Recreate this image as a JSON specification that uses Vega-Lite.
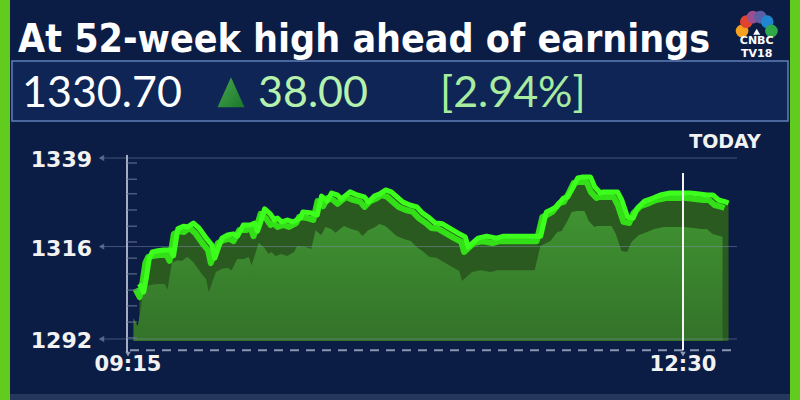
{
  "$schema": "https://vega.github.io/schema/vega-lite/v6.json",
  "width": 800,
  "height": 400,
  "autosize": {"type": "fit", "contains": "padding"},
  "padding": {"left": 10, "right": 10, "top": 0, "bottom": 0},
  "background": "#62cc1e",
  "config": {
    "view": {"stroke": null, "fill": "#0b1d45"},
    "axis": {"disable": true},
    "legend": {"disable": true}
  },
  "datasets": {
    "intraday": [
      {"time": "2024-01-01T09:19:00", "price": 1306.3},
      {"time": "2024-01-01T09:20:30", "price": 1304.2},
      {"time": "2024-01-01T09:21:30", "price": 1308.1},
      {"time": "2024-01-01T09:22:30", "price": 1313.0},
      {"time": "2024-01-01T09:23:30", "price": 1314.6},
      {"time": "2024-01-01T09:25:30", "price": 1314.9},
      {"time": "2024-01-01T09:27:30", "price": 1315.1},
      {"time": "2024-01-01T09:30:00", "price": 1315.1},
      {"time": "2024-01-01T09:31:00", "price": 1313.6},
      {"time": "2024-01-01T09:32:30", "price": 1320.6},
      {"time": "2024-01-01T09:34:30", "price": 1321.3},
      {"time": "2024-01-01T09:36:00", "price": 1321.1},
      {"time": "2024-01-01T09:38:00", "price": 1322.1},
      {"time": "2024-01-01T09:40:00", "price": 1320.8},
      {"time": "2024-01-01T09:42:30", "price": 1318.2},
      {"time": "2024-01-01T09:44:30", "price": 1316.4},
      {"time": "2024-01-01T09:45:30", "price": 1313.0},
      {"time": "2024-01-01T09:47:00", "price": 1316.2},
      {"time": "2024-01-01T09:48:00", "price": 1318.2},
      {"time": "2024-01-01T09:50:00", "price": 1319.0},
      {"time": "2024-01-01T09:52:00", "price": 1319.3},
      {"time": "2024-01-01T09:53:30", "price": 1318.7},
      {"time": "2024-01-01T09:55:30", "price": 1321.6},
      {"time": "2024-01-01T09:58:00", "price": 1321.6},
      {"time": "2024-01-01T09:59:30", "price": 1322.1},
      {"time": "2024-01-01T10:00:30", "price": 1320.0},
      {"time": "2024-01-01T10:01:30", "price": 1322.1},
      {"time": "2024-01-01T10:03:00", "price": 1325.8},
      {"time": "2024-01-01T10:05:00", "price": 1324.5},
      {"time": "2024-01-01T10:06:30", "price": 1322.9},
      {"time": "2024-01-01T10:07:30", "price": 1323.4},
      {"time": "2024-01-01T10:09:00", "price": 1322.4},
      {"time": "2024-01-01T10:11:00", "price": 1322.9},
      {"time": "2024-01-01T10:13:00", "price": 1322.4},
      {"time": "2024-01-01T10:15:30", "price": 1323.4},
      {"time": "2024-01-01T10:16:30", "price": 1325.0},
      {"time": "2024-01-01T10:19:30", "price": 1324.7},
      {"time": "2024-01-01T10:21:30", "price": 1324.2},
      {"time": "2024-01-01T10:23:00", "price": 1329.1},
      {"time": "2024-01-01T10:25:00", "price": 1327.8},
      {"time": "2024-01-01T10:26:30", "price": 1329.9},
      {"time": "2024-01-01T10:28:30", "price": 1329.4},
      {"time": "2024-01-01T10:30:00", "price": 1328.4},
      {"time": "2024-01-01T10:33:00", "price": 1330.2},
      {"time": "2024-01-01T10:35:30", "price": 1329.4},
      {"time": "2024-01-01T10:38:00", "price": 1328.9},
      {"time": "2024-01-01T10:39:30", "price": 1327.6},
      {"time": "2024-01-01T10:41:30", "price": 1329.1},
      {"time": "2024-01-01T10:43:30", "price": 1329.7},
      {"time": "2024-01-01T10:45:30", "price": 1330.7},
      {"time": "2024-01-01T10:47:30", "price": 1330.2},
      {"time": "2024-01-01T10:49:30", "price": 1328.9},
      {"time": "2024-01-01T10:51:30", "price": 1327.6},
      {"time": "2024-01-01T10:54:00", "price": 1326.8},
      {"time": "2024-01-01T10:56:30", "price": 1326.3},
      {"time": "2024-01-01T10:58:30", "price": 1324.7},
      {"time": "2024-01-01T11:01:00", "price": 1323.4},
      {"time": "2024-01-01T11:03:00", "price": 1322.1},
      {"time": "2024-01-01T11:05:30", "price": 1321.9},
      {"time": "2024-01-01T11:08:00", "price": 1320.8},
      {"time": "2024-01-01T11:11:00", "price": 1319.5},
      {"time": "2024-01-01T11:13:30", "price": 1318.5},
      {"time": "2024-01-01T11:14:30", "price": 1315.9},
      {"time": "2024-01-01T11:16:00", "price": 1316.9},
      {"time": "2024-01-01T11:18:00", "price": 1318.2},
      {"time": "2024-01-01T11:21:00", "price": 1318.7},
      {"time": "2024-01-01T11:24:30", "price": 1318.2},
      {"time": "2024-01-01T11:27:00", "price": 1318.7},
      {"time": "2024-01-01T11:31:30", "price": 1318.7},
      {"time": "2024-01-01T11:36:00", "price": 1318.7},
      {"time": "2024-01-01T11:40:00", "price": 1318.7},
      {"time": "2024-01-01T11:42:00", "price": 1325.0},
      {"time": "2024-01-01T11:43:30", "price": 1325.5},
      {"time": "2024-01-01T11:45:30", "price": 1326.3},
      {"time": "2024-01-01T11:48:00", "price": 1328.6},
      {"time": "2024-01-01T11:49:30", "price": 1328.9},
      {"time": "2024-01-01T11:51:30", "price": 1331.5},
      {"time": "2024-01-01T11:53:00", "price": 1333.8},
      {"time": "2024-01-01T11:55:00", "price": 1334.1},
      {"time": "2024-01-01T11:57:30", "price": 1334.1},
      {"time": "2024-01-01T11:59:00", "price": 1331.5},
      {"time": "2024-01-01T12:01:00", "price": 1329.9},
      {"time": "2024-01-01T12:02:00", "price": 1330.2},
      {"time": "2024-01-01T12:07:00", "price": 1330.2},
      {"time": "2024-01-01T12:08:30", "price": 1328.1},
      {"time": "2024-01-01T12:10:30", "price": 1323.7},
      {"time": "2024-01-01T12:12:30", "price": 1323.4},
      {"time": "2024-01-01T12:14:00", "price": 1326.0},
      {"time": "2024-01-01T12:16:30", "price": 1327.8},
      {"time": "2024-01-01T12:19:30", "price": 1328.6},
      {"time": "2024-01-01T12:22:00", "price": 1329.4},
      {"time": "2024-01-01T12:25:30", "price": 1329.9},
      {"time": "2024-01-01T12:29:00", "price": 1329.9},
      {"time": "2024-01-01T12:32:30", "price": 1329.9},
      {"time": "2024-01-01T12:35:00", "price": 1329.7},
      {"time": "2024-01-01T12:38:30", "price": 1329.4},
      {"time": "2024-01-01T12:40:30", "price": 1329.4},
      {"time": "2024-01-01T12:42:30", "price": 1328.1},
      {"time": "2024-01-01T12:45:00", "price": 1327.6},
      {"time": "2024-01-01T12:46:00", "price": 1327.3}
    ],
    "grid": [{"value": 1339}, {"value": 1316}, {"value": 1292}],
    "minorTicks": [
      {"price": 1337.7}, {"price": 1333.5}, {"price": 1329.7}, {"price": 1325.5},
      {"price": 1321.3}, {"price": 1317.2}, {"price": 1313.0}, {"price": 1308.9},
      {"price": 1304.7}, {"price": 1300.6}, {"price": 1296.4}, {"price": 1292.3}
    ],
    "xlabels": [
      {"time": "2024-01-01T09:15:00", "label": "09:15"},
      {"time": "2024-01-01T12:30:00", "label": "12:30"}
    ],
    "one": [{}]
  },
  "layer": [
    {
      "data": {"name": "one"},
      "mark": {"type": "rect", "color": "#26375e"},
      "encoding": {
        "x": {"datum": {"year": 2024, "month": 1, "date": 1, "hours": 8, "minutes": 33, "seconds": 32}, "type": "temporal",
          "scale": {"domain": [{"year": 2024, "month": 1, "date": 1, "hours": 8, "minutes": 33, "seconds": 32}, {"year": 2024, "month": 1, "date": 1, "hours": 13, "minutes": 7, "seconds": 36}], "nice": false}},
        "x2": {"datum": {"year": 2024, "month": 1, "date": 1, "hours": 13, "minutes": 7, "seconds": 36}},
        "y": {"datum": 1277.7, "type": "quantitative", "scale": {"domain": [1276.16, 1380.03], "nice": false, "zero": false}},
        "y2": {"datum": 1276.16}
      }
    },
    {
      "data": {"name": "one"},
      "mark": {"type": "rect", "color": "#0f2555", "stroke": "#5f7fb8", "strokeWidth": 1.5},
      "encoding": {
        "x": {"datum": {"year": 2024, "month": 1, "date": 1, "hours": 8, "minutes": 34, "seconds": 14}, "type": "temporal"},
        "x2": {"datum": {"year": 2024, "month": 1, "date": 1, "hours": 13, "minutes": 6, "seconds": 54}},
        "y": {"datum": 1364.2, "type": "quantitative"},
        "y2": {"datum": 1348.6}
      }
    },
    {
      "data": {"name": "intraday"},
      "mark": {"type": "area", "color": "#2a5a20"},
      "encoding": {
        "x": {"field": "time", "type": "temporal"},
        "y": {"field": "price", "type": "quantitative"},
        "y2": {"datum": 1291.5}
      }
    },
    {
      "data": {"name": "intraday"},
      "mark": {"type": "area", "yOffset": 34, "xOffset": -6,
        "color": {"gradient": "linear", "x1": 0, "y1": 0, "x2": 0, "y2": 1,
          "stops": [{"offset": 0, "color": "#3f9331"}, {"offset": 1, "color": "#34722a"}]}},
      "encoding": {
        "x": {"field": "time", "type": "temporal"},
        "y": {"field": "price", "type": "quantitative"},
        "y2": {"datum": 1291.5}
      }
    },
    {
      "data": {"name": "grid"},
      "mark": {"type": "rule", "color": "#8796b8", "strokeWidth": 1, "opacity": 0.45},
      "encoding": {
        "x": {"datum": {"year": 2024, "month": 1, "date": 1, "hours": 9, "minutes": 5, "seconds": 10}, "type": "temporal"},
        "x2": {"datum": {"year": 2024, "month": 1, "date": 1, "hours": 12, "minutes": 48, "seconds": 58}},
        "y": {"field": "value", "type": "quantitative"}
      }
    },
    {
      "data": {"name": "grid"},
      "mark": {"type": "point", "shape": "triangle-left", "filled": true, "size": 40, "color": "#6f7fa3"},
      "encoding": {
        "x": {"datum": {"year": 2024, "month": 1, "date": 1, "hours": 9, "minutes": 5, "seconds": 40}, "type": "temporal"},
        "y": {"field": "value", "type": "quantitative"}
      }
    },
    {
      "data": {"name": "grid"},
      "mark": {"type": "text", "align": "right", "baseline": "middle", "dy": 2, "font": "DejaVu Sans", "fontWeight": "bold", "fontSize": 22, "color": "#f2f2f2"},
      "encoding": {
        "x": {"datum": {"year": 2024, "month": 1, "date": 1, "hours": 9, "minutes": 2, "seconds": 21}, "type": "temporal"},
        "y": {"field": "value", "type": "quantitative"},
        "text": {"field": "value", "type": "quantitative", "format": "d"}
      }
    },
    {
      "data": {"name": "intraday"},
      "mark": {"type": "line", "color": "#33e018", "strokeWidth": 6, "xOffset": -4, "yOffset": 5, "strokeJoin": "round"},
      "encoding": {
        "x": {"field": "time", "type": "temporal"},
        "y": {"field": "price", "type": "quantitative"}
      }
    },
    {
      "data": {"name": "intraday"},
      "mark": {"type": "line", "color": "#3dff1c", "strokeWidth": 5, "strokeJoin": "round"},
      "encoding": {
        "x": {"field": "time", "type": "temporal"},
        "y": {"field": "price", "type": "quantitative"}
      }
    },
    {
      "data": {"name": "one"},
      "mark": {"type": "rule", "color": "#a3aec6", "strokeWidth": 2},
      "encoding": {
        "x": {"datum": {"year": 2024, "month": 1, "date": 1, "hours": 9, "minutes": 14, "seconds": 39}, "type": "temporal"},
        "y": {"datum": 1339.8, "type": "quantitative"},
        "y2": {"datum": 1288.6}
      }
    },
    {
      "data": {"name": "minorTicks"},
      "mark": {"type": "rule", "color": "#6a7898", "strokeWidth": 1},
      "encoding": {
        "x": {"datum": {"year": 2024, "month": 1, "date": 1, "hours": 9, "minutes": 14, "seconds": 39}, "type": "temporal"},
        "x2": {"datum": {"year": 2024, "month": 1, "date": 1, "hours": 9, "minutes": 18, "seconds": 10}},
        "y": {"field": "price", "type": "quantitative"}
      }
    },
    {
      "data": {"name": "one"},
      "mark": {"type": "rule", "color": "#8a96b0", "strokeWidth": 2, "strokeDash": [9, 7]},
      "encoding": {
        "x": {"datum": {"year": 2024, "month": 1, "date": 1, "hours": 9, "minutes": 15, "seconds": 42}, "type": "temporal"},
        "x2": {"datum": {"year": 2024, "month": 1, "date": 1, "hours": 12, "minutes": 48, "seconds": 58}},
        "y": {"datum": 1289.1, "type": "quantitative"}
      }
    },
    {
      "data": {"name": "one"},
      "mark": {"type": "rule", "color": "#f4f4f4", "strokeWidth": 2},
      "encoding": {
        "x": {"datum": {"year": 2024, "month": 1, "date": 1, "hours": 12, "minutes": 30, "seconds": 0}, "type": "temporal"},
        "y": {"datum": 1335.1, "type": "quantitative"},
        "y2": {"datum": 1289.1}
      }
    },
    {
      "data": {"name": "xlabels"},
      "mark": {"type": "point", "shape": "triangle-down", "filled": true, "size": 30, "color": "#c8d0e0"},
      "encoding": {
        "x": {"field": "time", "type": "temporal"},
        "y": {"datum": 1288.1, "type": "quantitative"}
      }
    },
    {
      "data": {"name": "xlabels"},
      "mark": {"type": "text", "align": "center", "baseline": "middle", "font": "DejaVu Sans", "fontWeight": "bold", "fontSize": 21, "color": "#f2f2f2"},
      "encoding": {
        "x": {"field": "time", "type": "temporal"},
        "y": {"datum": 1285.3, "type": "quantitative"},
        "text": {"field": "label"}
      }
    },
    {
      "data": {"name": "one"},
      "mark": {"type": "text", "text": "TODAY", "align": "center", "baseline": "middle", "font": "DejaVu Sans", "fontWeight": "bold", "fontSize": 19, "color": "#f2f2f2"},
      "encoding": {
        "x": {"datum": {"year": 2024, "month": 1, "date": 1, "hours": 12, "minutes": 44, "seconds": 45}, "type": "temporal"},
        "y": {"datum": 1343.2, "type": "quantitative"}
      }
    },
    {
      "data": {"name": "one"},
      "mark": {"type": "text", "text": "At 52-week high ahead of earnings", "align": "left", "baseline": "alphabetic", "font": "Liberation Sans Narrow, DejaVu Sans Condensed, Roboto", "fontWeight": "bold", "fontSize": 39, "color": "#ffffff"},
      "encoding": {
        "x": {"datum": {"year": 2024, "month": 1, "date": 1, "hours": 8, "minutes": 36, "seconds": 21}, "type": "temporal"},
        "y": {"datum": 1366.5, "type": "quantitative"}
      }
    },
    {
      "data": {"name": "one"},
      "mark": {"type": "text", "text": "1330.70", "align": "left", "baseline": "alphabetic", "font": "Lato", "fontSize": 43, "color": "#ffffff"},
      "encoding": {
        "x": {"datum": {"year": 2024, "month": 1, "date": 1, "hours": 8, "minutes": 37, "seconds": 46}, "type": "temporal"},
        "y": {"datum": 1352.2, "type": "quantitative"}
      }
    },
    {
      "data": {"name": "one"},
      "mark": {"type": "point", "shape": "M0,-1L0.9,1L-0.9,1Z", "filled": true, "size": 900, "strokeWidth": 0,
        "color": {"gradient": "linear", "x1": 0, "y1": 0, "x2": 1, "y2": 1,
          "stops": [{"offset": 0, "color": "#5fe04a"}, {"offset": 1, "color": "#1f9a1a"}]}},
      "encoding": {
        "x": {"datum": {"year": 2024, "month": 1, "date": 1, "hours": 9, "minutes": 51, "seconds": 11}, "type": "temporal"},
        "y": {"datum": 1356.1, "type": "quantitative"}
      }
    },
    {
      "data": {"name": "one"},
      "mark": {"type": "text", "text": "38.00", "align": "left", "baseline": "alphabetic", "font": "Lato", "fontSize": 43, "color": "#b5f2ae"},
      "encoding": {
        "x": {"datum": {"year": 2024, "month": 1, "date": 1, "hours": 10, "minutes": 0, "seconds": 41}, "type": "temporal"},
        "y": {"datum": 1352.2, "type": "quantitative"}
      }
    },
    {
      "data": {"name": "one"},
      "mark": {"type": "text", "text": "[2.94%]", "align": "left", "baseline": "alphabetic", "font": "Lato", "fontSize": 43, "color": "#a8eca0"},
      "encoding": {
        "x": {"datum": {"year": 2024, "month": 1, "date": 1, "hours": 11, "minutes": 4, "seconds": 37}, "type": "temporal"},
        "y": {"datum": 1352.2, "type": "quantitative"}
      }
    },
    {
      "data": {"name": "one"},
      "mark": {"type": "point", "shape": "circle", "filled": true, "size": 160, "color": "#f6a21e", "opacity": 1},
      "encoding": {"x": {"datum": {"year": 2024, "month": 1, "date": 1, "hours": 12, "minutes": 50, "seconds": 45}, "type": "temporal"}, "y": {"datum": 1372.0, "type": "quantitative"}}
    },
    {
      "data": {"name": "one"},
      "mark": {"type": "point", "shape": "circle", "filled": true, "size": 160, "color": "#e2432f", "opacity": 1},
      "encoding": {"x": {"datum": {"year": 2024, "month": 1, "date": 1, "hours": 12, "minutes": 52, "seconds": 15}, "type": "temporal"}, "y": {"datum": 1374.4, "type": "quantitative"}}
    },
    {
      "data": {"name": "one"},
      "mark": {"type": "point", "shape": "circle", "filled": true, "size": 160, "color": "#9b4f8f", "opacity": 1},
      "encoding": {"x": {"datum": {"year": 2024, "month": 1, "date": 1, "hours": 12, "minutes": 54, "seconds": 35}, "type": "temporal"}, "y": {"datum": 1375.6, "type": "quantitative"}}
    },
    {
      "data": {"name": "one"},
      "mark": {"type": "point", "shape": "circle", "filled": true, "size": 160, "color": "#5b5fa8", "opacity": 1},
      "encoding": {"x": {"datum": {"year": 2024, "month": 1, "date": 1, "hours": 12, "minutes": 57, "seconds": 10}, "type": "temporal"}, "y": {"datum": 1375.6, "type": "quantitative"}}
    },
    {
      "data": {"name": "one"},
      "mark": {"type": "point", "shape": "circle", "filled": true, "size": 160, "color": "#1f86cf", "opacity": 1},
      "encoding": {"x": {"datum": {"year": 2024, "month": 1, "date": 1, "hours": 12, "minutes": 59, "seconds": 35}, "type": "temporal"}, "y": {"datum": 1374.4, "type": "quantitative"}}
    },
    {
      "data": {"name": "one"},
      "mark": {"type": "point", "shape": "circle", "filled": true, "size": 160, "color": "#2fa84a", "opacity": 1},
      "encoding": {"x": {"datum": {"year": 2024, "month": 1, "date": 1, "hours": 13, "minutes": 1, "seconds": 5}, "type": "temporal"}, "y": {"datum": 1372.0, "type": "quantitative"}}
    },
    {
      "data": {"name": "one"},
      "mark": {"type": "point", "shape": "triangle-up", "filled": true, "size": 50, "color": "#ffffff", "opacity": 1},
      "encoding": {"x": {"datum": {"year": 2024, "month": 1, "date": 1, "hours": 12, "minutes": 55, "seconds": 54}, "type": "temporal"}, "y": {"datum": 1371.8, "type": "quantitative"}}
    },
    {
      "data": {"name": "one"},
      "mark": {"type": "text", "text": "CNBC", "align": "center", "baseline": "middle", "font": "DejaVu Sans", "fontWeight": "bold", "fontSize": 11, "color": "#ffffff"},
      "encoding": {"x": {"datum": {"year": 2024, "month": 1, "date": 1, "hours": 12, "minutes": 55, "seconds": 54}, "type": "temporal"}, "y": {"datum": 1369.4, "type": "quantitative"}}
    },
    {
      "data": {"name": "one"},
      "mark": {"type": "text", "text": "TV18", "align": "center", "baseline": "middle", "font": "DejaVu Sans", "fontWeight": "bold", "fontSize": 11, "color": "#ffffff"},
      "encoding": {"x": {"datum": {"year": 2024, "month": 1, "date": 1, "hours": 12, "minutes": 55, "seconds": 54}, "type": "temporal"}, "y": {"datum": 1365.9, "type": "quantitative"}}
    }
  ]
}
